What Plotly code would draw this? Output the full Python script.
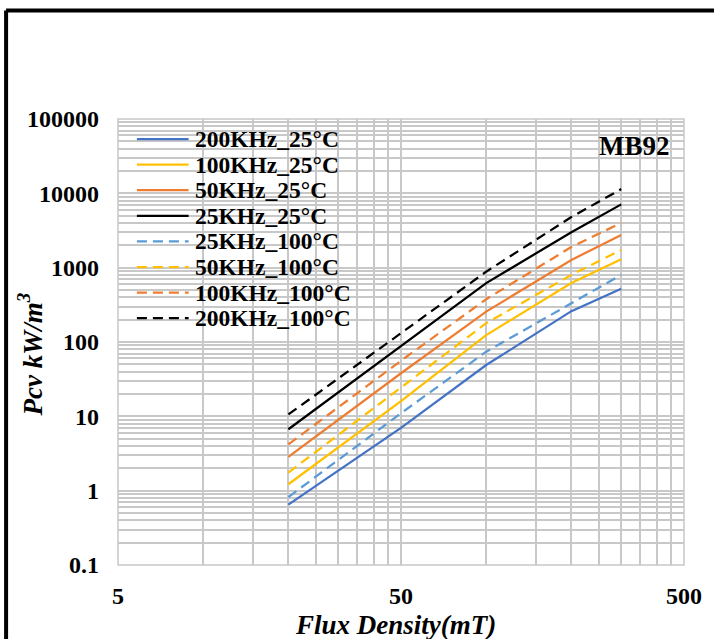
import plotly.graph_objects as go

# ---------------- data ----------------
flux_mT = [20, 50, 100, 200, 300]

series_names = [
    "200KHz_25°C", "100KHz_25°C", "50KHz_25°C", "25KHz_25°C",
    "25KHz_100°C", "50KHz_100°C", "100KHz_100°C", "200KHz_100°C",
]
pcv_200k_25 = [0.65, 7.0, 49, 260, 520]
pcv_100k_25 = [1.22, 16, 124, 620, 1300]
pcv_50k_25 = [2.85, 38, 256, 1270, 2750]
pcv_25k_25 = [6.7, 88, 620, 3000, 7100]
pcv_25k_100 = [0.82, 11, 74, 332, 800]
pcv_50k_100 = [1.75, 24, 179, 800, 1730]
pcv_100k_100 = [4.2, 56, 376, 1900, 4000]
pcv_200k_100 = [10.6, 130, 883, 4800, 11400]

series_values = [pcv_200k_25, pcv_100k_25, pcv_50k_25, pcv_25k_25,
                 pcv_25k_100, pcv_50k_100, pcv_100k_100, pcv_200k_100]

x_grid_vals = [5, 10, 15, 20, 25, 30, 35, 40, 45, 50,
               100, 150, 200, 250, 300, 350, 400, 450, 500]
x_tick_labels = {5: "5", 50: "50", 500: "500"}
y_grid_vals = [m * 10 ** e for e in range(-1, 5) for m in range(1, 10)] + [100000]
y_tick_labels = {0.1: "0.1", 1: "1", 10: "10", 100: "100", 1000: "1000",
                 10000: "10000", 100000: "100000"}

# ---------------- styles ----------------
colors = ["#4472C4", "#FFC000", "#ED7D31", "#000000",
          "#5B9BD5", "#FFC000", "#ED7D31", "#000000"]
dashes = ["solid"] * 4 + ["10px,6px"] * 4
FONT = "Liberation Serif"

W, H = 714, 639
L, R, T, B = 118, 687, 119, 565  # plot area pixel box


def px_x(px):
    return (px - L) / (R - L)


def px_y(py):
    return (B - py) / (B - T)


fig = go.Figure()
for name, vals, c, d in zip(series_names, series_values, colors, dashes):
    fig.add_trace(go.Scatter(x=flux_mT, y=vals, mode="lines", name=name,
                             line=dict(color=c, width=2.25, dash=d),
                             showlegend=False))

grid_col = "#C8C8C8"
fig.update_xaxes(type="log", range=[0.69897, 2.69897],
                 tickvals=x_grid_vals,
                 ticktext=[x_tick_labels.get(v, "") for v in x_grid_vals],
                 showgrid=True, gridcolor=grid_col, gridwidth=1.5,
                 zeroline=False, showline=False, ticks="",
                 ticklabelstandoff=14,
                 tickfont=dict(family=FONT, size=24, color="black", weight="bold"))
fig.update_yaxes(type="log", range=[-1, 5],
                 tickvals=y_grid_vals,
                 ticktext=[y_tick_labels.get(v, "") for v in y_grid_vals],
                 showgrid=True, gridcolor=grid_col, gridwidth=1.5,
                 zeroline=False, showline=False, ticks="",
                 ticklabelstandoff=18,
                 tickfont=dict(family=FONT, size=24, color="black", weight="bold"))

shapes = []
annotations = []

# plot frame (light gray)
shapes.append(dict(type="rect", xref="paper", yref="paper", x0=0, x1=1, y0=0, y1=1,
                   line=dict(color=grid_col, width=1.5)))
# outer black border (left & top of the chart area)
bx, by = px_x(5.5), px_y(10.5)
shapes.append(dict(type="line", xref="paper", yref="paper", x0=bx, x1=bx,
                   y0=px_y(650), y1=by, line=dict(color="black", width=4)))
shapes.append(dict(type="line", xref="paper", yref="paper", x0=bx, x1=px_x(730),
                   y0=by, y1=by, line=dict(color="black", width=4)))

# custom legend
for i, (name, c, d) in enumerate(zip(series_names, colors, dashes)):
    yy = px_y(139 + 25.6 * i)
    shapes.append(dict(type="line", xref="paper", yref="paper",
                       x0=px_x(137), x1=px_x(189), y0=yy, y1=yy,
                       line=dict(color=c, width=2.25, dash=d)))
    annotations.append(dict(xref="paper", yref="paper", x=px_x(193), y=yy,
                            text=name, showarrow=False, xanchor="left", yanchor="middle",
                            font=dict(family=FONT, size=23.5, color="black", weight="bold")))

# material label
annotations.append(dict(xref="paper", yref="paper", x=px_x(675), y=px_y(146),
                        text="MB92", showarrow=False, xanchor="right", yanchor="middle",
                        font=dict(family=FONT, size=27, color="black", weight="bold")))
# axis titles
annotations.append(dict(xref="paper", yref="paper", x=px_x(30), y=px_y(354),
                        text="Pcv kW/m<sup>3</sup>", showarrow=False, textangle=-90,
                        xanchor="center", yanchor="middle",
                        font=dict(family=FONT, size=27, color="black", weight="bold",
                                  style="italic")))
annotations.append(dict(xref="paper", yref="paper", x=px_x(397), y=px_y(625),
                        text="Flux Density(mT)", showarrow=False,
                        xanchor="center", yanchor="middle",
                        font=dict(family=FONT, size=27, color="black", weight="bold",
                                  style="italic")))

fig.update_layout(width=W, height=H, autosize=False,
                  margin=dict(l=L, r=W - R, t=T, b=H - B, pad=0),
                  paper_bgcolor="white", plot_bgcolor="white",
                  shapes=shapes, annotations=annotations, showlegend=False)

fig.write_html("out.html",
               config={"displayModeBar": False},
               post_script="document.body.style.margin='0px';"
                           "document.body.style.overflow='hidden';")
